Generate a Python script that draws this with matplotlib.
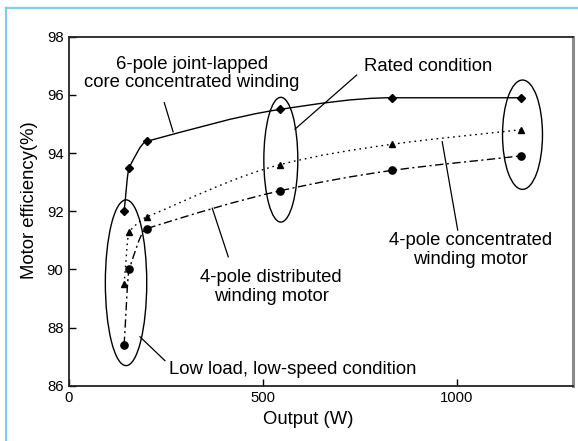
import numpy as np
import matplotlib
matplotlib.use("Agg")
import matplotlib.pyplot as plt
from matplotlib.path import Path
from matplotlib.patches import PathPatch, Ellipse
from matplotlib.lines import Line2D

plt.rcParams['font.family'] = ['Liberation Sans', 'DejaVu Sans']

# Output power (W) at each operating point
output_w = [142, 155, 200, 544, 832, 1164]

# Motor efficiency (%) for each motor type
eff_6pole_joint_lapped = [92.0, 93.5, 94.4, 95.5, 95.9, 95.9]
eff_4pole_concentrated = [89.5, 91.3, 91.8, 93.6, 94.3, 94.8]
eff_4pole_distributed = [87.4, 90.0, 91.4, 92.7, 93.4, 93.9]

x_ticks = [0, 500, 1000]
y_ticks = [86, 88, 90, 92, 94, 96, 98]


def hermite_slopes(x, y):
    """Tangents: interval-weighted harmonic mean of neighbouring secants."""
    x = np.asarray(x, float)
    y = np.asarray(y, float)
    h = np.diff(x)
    d = np.diff(y) / h
    m = np.zeros_like(y)
    for k in range(1, len(x) - 1):
        if d[k - 1] * d[k] <= 0:
            m[k] = 0.0
        else:
            m[k] = (h[k - 1] + h[k]) / (h[k - 1] / d[k - 1] + h[k] / d[k])
    m[0] = d[0]
    m[-1] = d[-1]
    return m


def smooth_path(x, y):
    """Cubic Bezier path passing through every data point."""
    m = hermite_slopes(x, y)
    verts = [(x[0], y[0])]
    codes = [Path.MOVETO]
    for k in range(len(x) - 1):
        h = x[k + 1] - x[k]
        verts += [(x[k] + h / 3, y[k] + m[k] * h / 3),
                  (x[k + 1] - h / 3, y[k + 1] - m[k + 1] * h / 3),
                  (x[k + 1], y[k + 1])]
        codes += [Path.CURVE4] * 3
    return Path(verts, codes)


fig = plt.figure(figsize=(5.78, 4.41), dpi=100)
ax = fig.add_axes([0.1194, 0.1254, 0.8725, 0.7914])

series = [
    (eff_6pole_joint_lapped, '-', 'D', 4.3),
    (eff_4pole_concentrated, (0, (1.2, 2.8)), '^', 5.0),
    (eff_4pole_distributed, (0, (6, 2.5, 1.5, 2.5)), 'o', 5.2),
]
for vals, ls, mk, ms in series:
    ax.add_patch(PathPatch(smooth_path(output_w, vals), facecolor='none',
                           edgecolor='black', lw=1.0, linestyle=ls,
                           capstyle='butt'))
    ax.plot(output_w, vals, linestyle='none', marker=mk, ms=ms,
            color='black', zorder=3)

# Ellipses grouping the operating conditions
for (cx, cy), w, h in [((147, 89.54), 106.7, 5.70),
                       ((546, 93.77), 87.6, 4.29),
                       ((1169, 94.63), 103, 3.76)]:
    ax.add_patch(Ellipse((cx, cy), w, h, facecolor='none',
                         edgecolor='black', lw=1.0))

# Labels with leader lines
labels = [
    ("6-pole joint-lapped\ncore concentrated winding", (316, 96.74),
     [(245.6, 95.73), (268.3, 94.73)]),
    ("Rated condition", (926, 96.97), [(741.5, 96.68), (582.5, 94.82)]),
    ("4-pole concentrated\nwinding motor", (1035, 90.67),
     [(962, 94.39), (1002, 91.35)]),
    ("4-pole distributed\nwinding motor", (520.7, 89.39),
     [(369.3, 92.1), (410.6, 90.43)]),
    ("Low load, low-speed condition", (576, 86.54),
     [(183, 87.68), (247.4, 86.86)]),
]
for txt, (tx, ty), seg in labels:
    ax.text(tx, ty, txt, ha='center', va='center', fontsize=13.3,
            linespacing=1.12)
    (x0, y0), (x1, y1) = seg
    ax.plot([x0, x1], [y0, y1], color='black', lw=0.9)

ax.set_xlim(0, 1300)
ax.set_ylim(86, 98)
ax.set_xticks(x_ticks)
ax.set_yticks(y_ticks)
ax.tick_params(direction='in', length=5, width=1, labelsize=10.7, pad=4)
ax.set_xlabel("Output (W)", fontsize=13.3, labelpad=4)
ax.set_ylabel("Motor efficiency(%)", fontsize=13.3, labelpad=6)
ax.xaxis.label.set_x(0.4745)
ax.yaxis.label.set_y(0.533)

for side in ['left', 'top', 'bottom']:
    ax.spines[side].set_linewidth(1.3)
    ax.spines[side].set_color('#222222')
ax.spines['right'].set_linewidth(2.2)
ax.spines['right'].set_color('#8a8a8a')

# Light blue frame around the figure
fig.add_artist(Line2D([6 / 578, 6 / 578], [0, 1 - 8 / 441],
                      transform=fig.transFigure, color='#7dcdec', lw=1.6))
fig.add_artist(Line2D([6 / 578, 1], [1 - 8 / 441, 1 - 8 / 441],
                      transform=fig.transFigure, color='#7dcdec', lw=1.6))

fig.savefig("out.png", dpi=100)
